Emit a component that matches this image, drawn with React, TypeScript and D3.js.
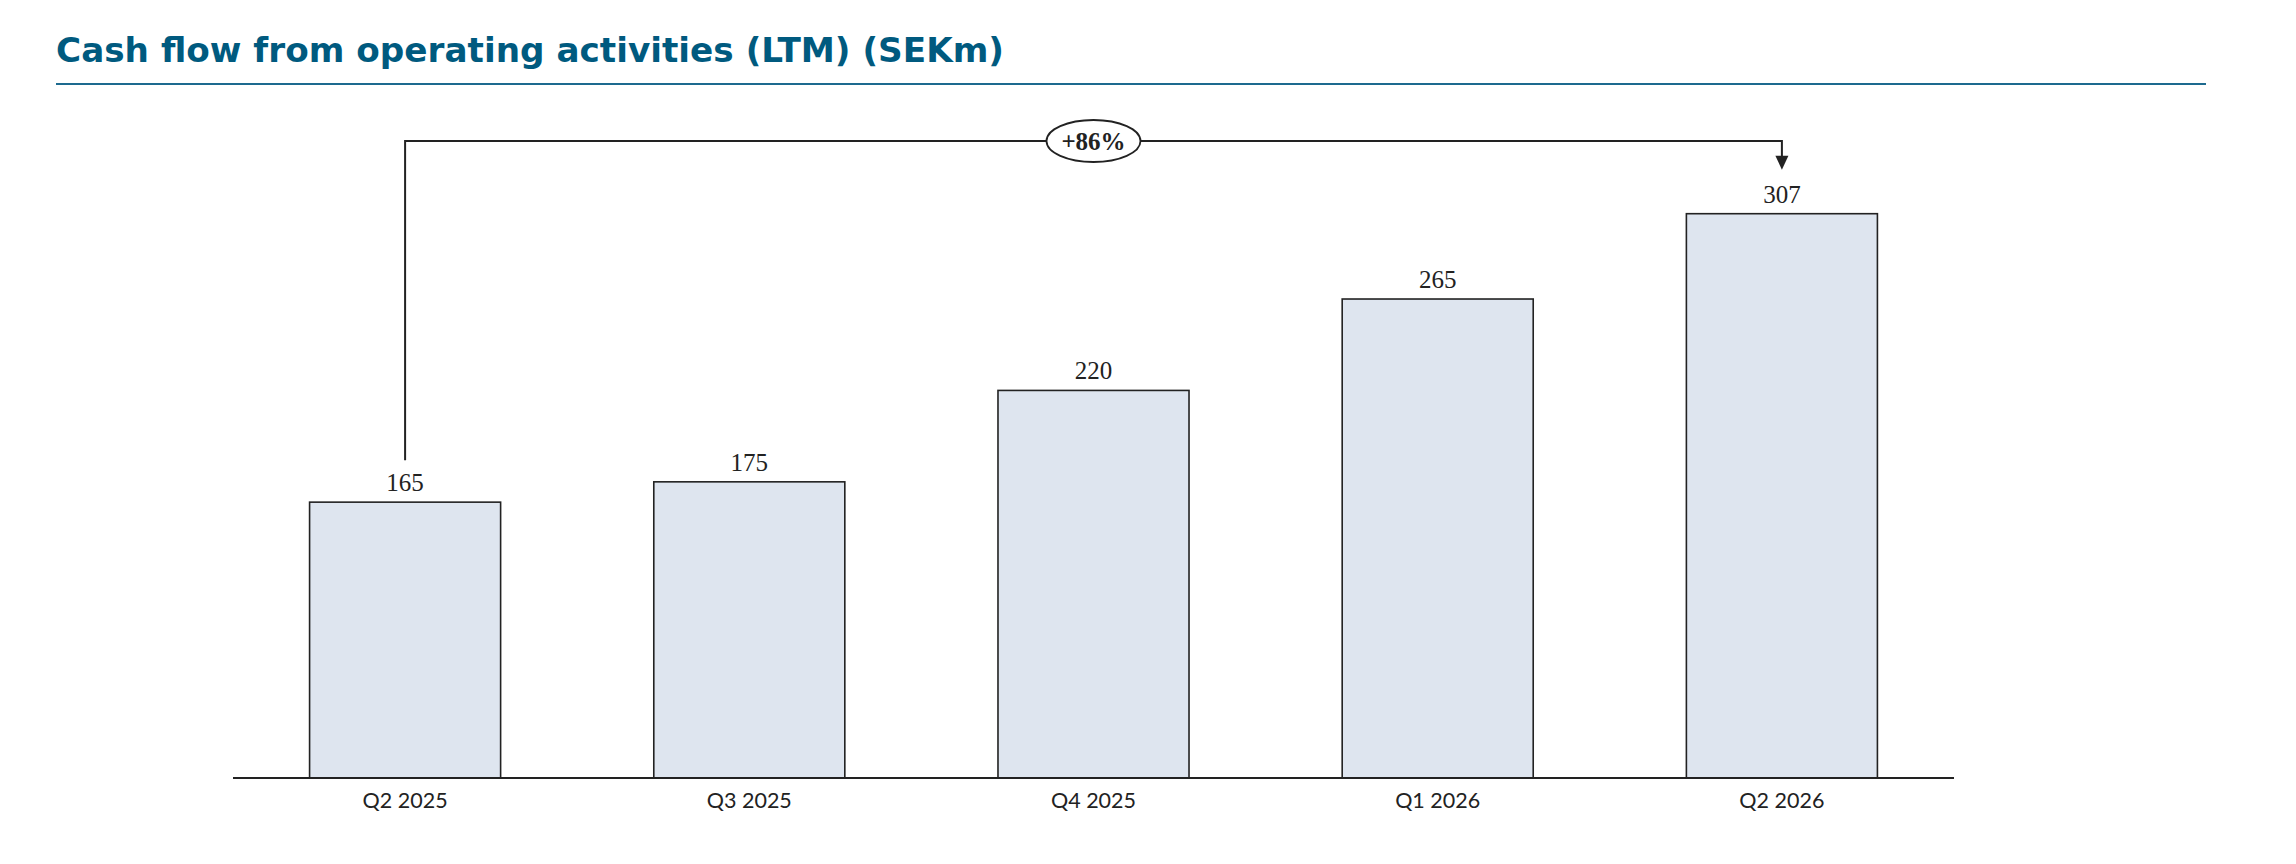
import * as d3 from 'd3';

const TITLE = 'Cash flow from operating activities (LTM) (SEKm)';
const CATEGORIES = ['Q2 2025', 'Q3 2025', 'Q4 2025', 'Q1 2026', 'Q2 2026'];
const VALUES = [165, 175, 220, 265, 307];
const GROWTH_LABEL = '+86%';

const WIDTH = 2296;
const HEIGHT = 864;
const BASELINE = 778;
const AXIS = { left: 233, right: 1954 };
const BRACKET_Y = 141;

const TITLE_COLOR = '#005a7f';
const RULE_COLOR = '#1d6a8f';
const BAR_FILL = '#dee5ef';
const INK = '#222222';

export default function App() {
  const x = d3
    .scaleBand<string>()
    .domain(CATEGORIES)
    .range([AXIS.left, AXIS.right])
    .paddingInner(0.445)
    .paddingOuter(0.2225);

  // the value axis does not start at zero in the source chart
  const y = d3.scaleLinear().domain([29.2, 307]).range([BASELINE, 213.7]);

  const cx = (c: string) => (x(c) ?? 0) + x.bandwidth() / 2;

  const first = CATEGORIES[0];
  const last = CATEGORIES[CATEGORIES.length - 1];
  const x0 = cx(first);
  const x1 = cx(last);
  const mid = cx(CATEGORIES[2]);
  const bracketStart = y(VALUES[0]) - 42;
  const arrowTip = y(VALUES[VALUES.length - 1]) - 44;

  const bracket = d3.path();
  bracket.moveTo(x0, bracketStart);
  bracket.lineTo(x0, BRACKET_Y);
  bracket.lineTo(x1, BRACKET_Y);
  bracket.lineTo(x1, arrowTip - 12);

  return (
    <svg
      width={WIDTH}
      height={HEIGHT}
      style={{ position: 'absolute', left: 0, top: 0, background: '#fff' }}
    >
      <text
        x={56}
        y={62}
        fill={TITLE_COLOR}
        fontFamily="'DejaVu Sans', sans-serif"
        fontWeight={700}
        fontSize={34}
        textLength={948}
        lengthAdjust="spacingAndGlyphs"
      >
        {TITLE}
      </text>
      <line x1={56} x2={2206} y1={84} y2={84} stroke={RULE_COLOR} strokeWidth={2} />

      {/* Bars */}
      {CATEGORIES.map((c, i) => (
        <g key={c}>
          <rect
            x={x(c)}
            y={y(VALUES[i])}
            width={x.bandwidth()}
            height={BASELINE - y(VALUES[i])}
            fill={BAR_FILL}
            stroke={INK}
            strokeWidth={1.6}
          />
          <text
            x={cx(c)}
            y={y(VALUES[i]) - 11}
            textAnchor="middle"
            fill={INK}
            fontFamily="'Liberation Serif', serif"
            fontSize={25}
          >
            {VALUES[i]}
          </text>
          <text
            x={cx(c)}
            y={BASELINE + 30}
            textAnchor="middle"
            fill={INK}
            fontFamily="Lato, 'Noto Sans', sans-serif"
            fontSize={21.5}
          >
            {c}
          </text>
        </g>
      ))}

      {/* Axis baseline */}
      <line x1={AXIS.left} x2={AXIS.right} y1={BASELINE} y2={BASELINE} stroke={INK} strokeWidth={1.8} />

      {/* Growth bracket */}
      <path d={bracket.toString()} fill="none" stroke={INK} strokeWidth={2} />
      <path
        d={`M${x1 - 6.5},${arrowTip - 14}L${x1 + 6.5},${arrowTip - 14}L${x1},${arrowTip}Z`}
        fill={INK}
      />
      <ellipse cx={mid} cy={BRACKET_Y} rx={47} ry={21} fill="#fff" stroke={INK} strokeWidth={1.8} />
      <text
        x={mid}
        y={BRACKET_Y + 8.5}
        textAnchor="middle"
        fill={INK}
        fontFamily="'Liberation Serif', serif"
        fontWeight={700}
        fontSize={25}
      >
        {GROWTH_LABEL}
      </text>
    </svg>
  );
}
